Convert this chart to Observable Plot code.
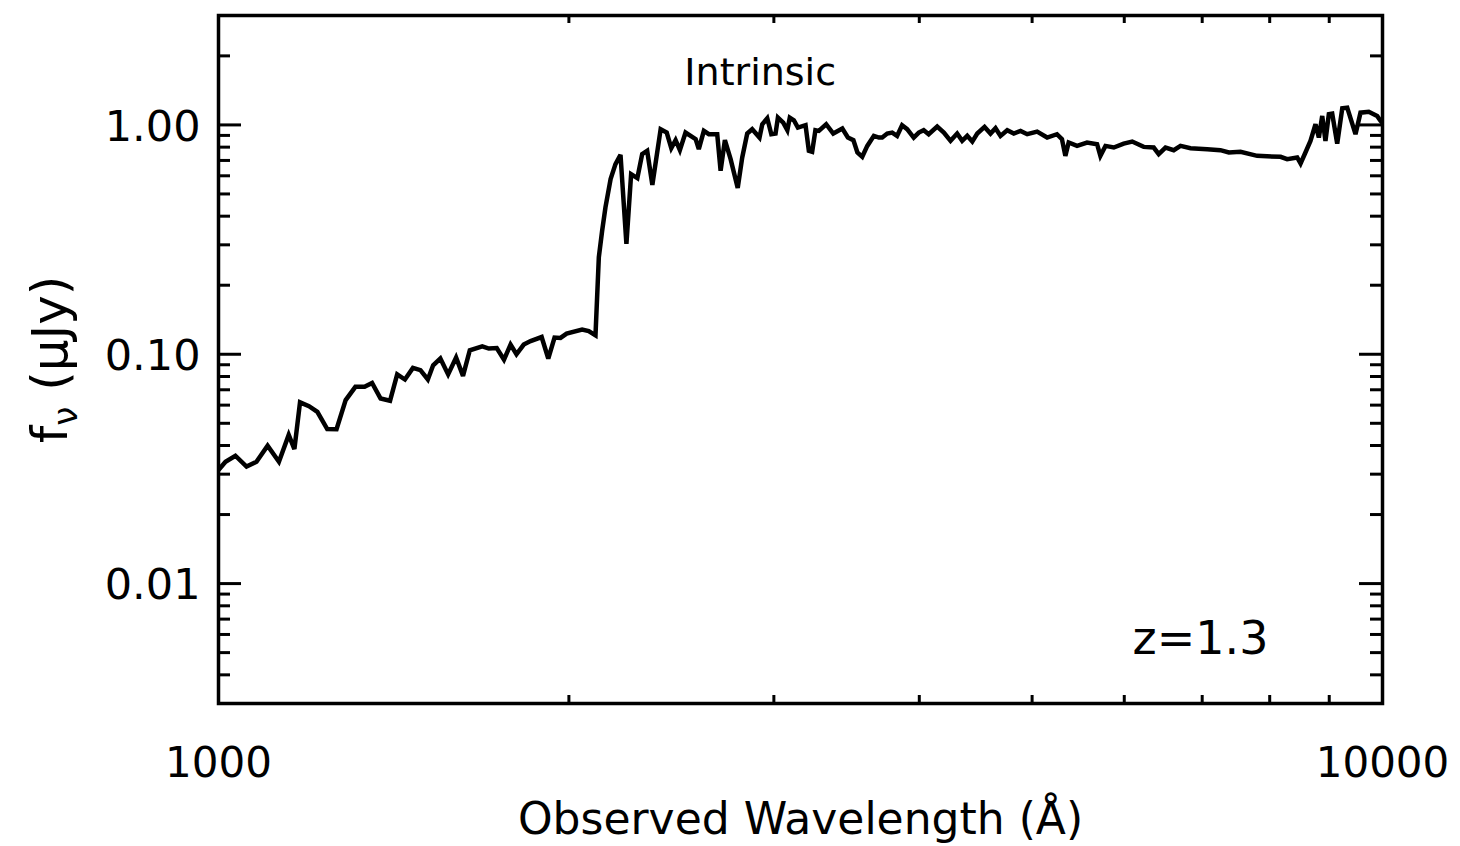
<!DOCTYPE html>
<html><head><meta charset="utf-8">
<script src="https://cdn.jsdelivr.net/npm/d3@7"></script>
<script src="https://cdn.jsdelivr.net/npm/@observablehq/plot@0.6"></script>
<style>html,body{margin:0;padding:0;background:#fff;}</style>
</head><body><div id="chart"></div>
<script>
// Observed wavelength (Å) and flux density f_nu (μJy)
const wavelength = [1000,1014,1034,1057,1078,1102,1127,1149,1162,1175,1196,1216,1240,1263,1286,1311,1335,1355,1378,1404,1424,1446,1469,1491,1513,1529,1551,1575,1600,1622,1644,1685,1707,1734,1759,1782,1803,1829,1854,1895,1920,1944,1967,1991,2053,2080,2108,
2122,2136,2150,2172,2193,2215,2241,2262,2290,2312,2335,2359,2398,2427,2449,2470,2491,2519,2570,2586,2612,2638,2682,2700,2723,2754,2793,2818,2846,2874,2916,2932,2961,2985,3010,3024,3056,3081,3096,3121,3146,3194,3215,3236,3257,3279,3327,3374,3435,3473,3511,3539,3573,3609,3656,3693,3717,3754,3791,3828,3866,3905,3956,3996,4035,4075,4144,4199,4255,4311,4354,4398,4442,4486,4551,4605,4651,4697,4760,4822,4887,4952,5050,5151,5252,5304,5340,5375,5465,5574,5686,5723,5781,5877,5993,6095,6235,6360,6423,6510,6617,6706,6840,7069,7257,7379,7551,7804,8174,8281,8447,8504,8586,8672,8759,8817,8876,8933,8993,9053,9143,9235,9326,9480,9574,9732,9895,9961,10000];
const flux = [0.0313,0.0340,0.0361,0.0324,0.0340,0.0399,0.0340,0.0445,0.0386,0.0617,0.0594,0.0561,0.0472,0.0471,0.0631,0.0721,0.0721,0.0750,0.0641,0.0627,0.0817,0.0776,0.0872,0.0852,0.0776,0.0895,0.0958,0.0817,0.0968,0.0805,0.1041,0.1083,0.1059,0.1065,0.0948,0.1102,0.100,0.1102,0.1142,0.1189,0.0958,0.1182,0.1178,0.1230,0.1281,0.1263,0.1209,
0.265,0.346,0.437,0.580,0.675,0.741,0.303,0.610,0.586,0.746,0.771,0.548,0.958,0.926,0.792,0.858,0.776,0.926,0.867,0.784,0.942,0.911,0.911,0.631,0.858,0.709,0.531,0.721,0.917,0.958,0.881,1.007,1.069,0.911,0.917,1.076,1.023,0.948,1.076,1.048,0.973,0.997,0.771,0.763,0.948,0.942,1.007,0.917,0.964,0.881,0.858,0.758,0.726,0.810,0.896,0.881,0.881,0.917,0.926,0.896,0.997,0.958,0.881,0.926,0.948,0.911,0.983,0.926,0.852,0.917,0.852,0.896,0.846,0.917,0.980,0.917,0.968,0.896,0.948,0.917,0.942,0.911,0.935,0.881,0.911,0.867,0.733,0.838,0.810,0.838,0.824,0.733,0.810,0.797,0.829,0.846,0.802,0.797,0.746,0.797,0.776,0.810,0.792,0.784,0.776,0.758,0.763,0.733,0.726,0.709,0.721,0.679,0.758,0.852,1.007,0.881,1.094,0.852,1.113,1.120,0.829,1.182,1.189,0.911,1.131,1.142,1.094,1.041,1.02];

const xMajor = [1000, 10000];
const xMajorLabels = ["1000", "10000"];
const xMinor = [2000, 3000, 4000, 5000, 6000, 7000, 8000, 9000];
const yMajor = [0.01, 0.1, 1];
const yMajorLabels = ["0.01", "0.10", "1.00"];
const yMinor = [0.003, 0.004, 0.005, 0.006, 0.007, 0.008, 0.009,
                0.02, 0.03, 0.04, 0.05, 0.06, 0.07, 0.08, 0.09,
                0.2, 0.3, 0.4, 0.5, 0.6, 0.7, 0.8, 0.9, 2, 3];
const xTitle = "Observed Wavelength (Å)";
const yTitle = "fν (μJy)";
const annotationTop = "Intrinsic";
const annotationZ = "z=1.3";

const spectrum = wavelength.map((w, i) => ({w, f: flux[i]}));

const W = 1460, H = 846;
const mL = 218, mR = 78, mT = 15, mB = 143;
const iw = W - mL - mR, ih = H - mT - mB;
const font = "DejaVu Sans, sans-serif";

const svg = Plot.plot({
  width: W, height: H,
  marginLeft: mL, marginRight: mR, marginTop: mT, marginBottom: mB,
  style: {fontFamily: font, background: "#fff", color: "#000"},
  x: {type: "log", domain: [1000, 10000], axis: null},
  y: {type: "log", domain: [0.003, 3], axis: null},
  marks: [
    Plot.line(spectrum, {x: "w", y: "f", stroke: "#000", strokeWidth: 4.5, strokeLinejoin: "miter", strokeMiterlimit: 3, clip: true}),
    // y ticks left/right
    Plot.ruleY(yMajor, {y: d => d, insetRight: iw - 23, strokeWidth: 3}),
    Plot.ruleY(yMajor, {y: d => d, insetLeft: iw - 23, strokeWidth: 3}),
    Plot.ruleY(yMinor, {y: d => d, insetRight: iw - 12, strokeWidth: 3}),
    Plot.ruleY(yMinor, {y: d => d, insetLeft: iw - 12, strokeWidth: 3}),
    // x ticks bottom/top
    Plot.ruleX(xMinor, {x: d => d, insetTop: ih - 8, strokeWidth: 3}),
    Plot.ruleX(xMinor, {x: d => d, insetBottom: ih - 8, strokeWidth: 3}),
    Plot.frame({stroke: "#000", strokeWidth: 3.5}),
    // tick labels
    Plot.text(xMajor, {x: d => d, frameAnchor: "bottom", dy: 73, text: (d, i) => xMajorLabels[i], fontSize: 42, fill: "#000"}),
    Plot.text(yMajor, {y: d => d, frameAnchor: "left", dx: -18, dy: 2, textAnchor: "end", text: (d, i) => yMajorLabels[i], fontSize: 43, fill: "#000"}),
    // axis titles
    Plot.text([xTitle], {frameAnchor: "bottom", dy: 130, text: d => d, fontSize: 44, fill: "#000"}),
    Plot.text([yTitle], {frameAnchor: "left", dx: -168, textAnchor: "middle", rotate: -90, text: d => d, fontSize: 50, fill: "#000"}),
    // annotations
    Plot.text([annotationTop], {x: 2920, frameAnchor: "top", dy: 43, textAnchor: "middle", text: d => d, fontSize: 38, fill: "#000"}),
    Plot.text([annotationZ], {frameAnchor: "bottom-right", dx: -182, dy: -50, textAnchor: "middle", text: d => d, fontSize: 46, fill: "#000"})
  ]
});

// make the nu a subscript in the y title
for (const t of svg.querySelectorAll("text")) {
  if (t.textContent === yTitle) {
    t.textContent = "";
    const ns = "http://www.w3.org/2000/svg";
    const a = document.createElementNS(ns, "tspan"); a.textContent = "f";
    const b = document.createElementNS(ns, "tspan"); b.textContent = "ν";
    b.setAttribute("dy", "10"); b.setAttribute("font-size", "34");
    const c = document.createElementNS(ns, "tspan"); c.textContent = " (μJy)";
    c.setAttribute("dy", "-10");
    t.append(a, b, c);
  }
}
document.getElementById("chart").append(svg);
</script>
</body></html>
